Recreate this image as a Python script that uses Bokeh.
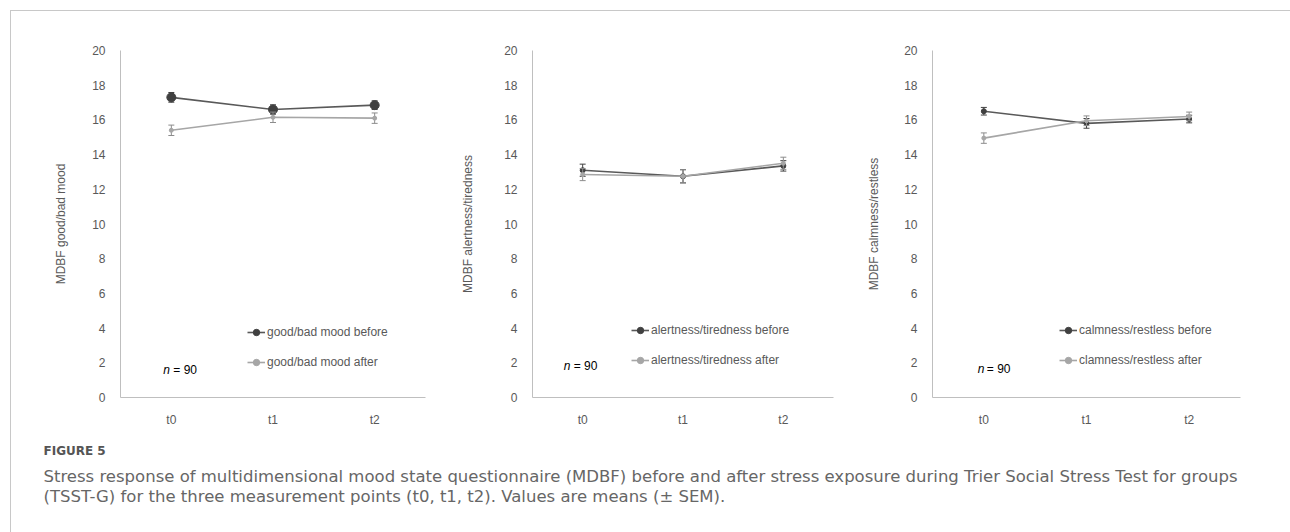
from bokeh.plotting import figure
from bokeh.models import (FactorRange, Range1d, FixedTicker, Legend, LegendItem,
                          Label, Div, Spacer)
from bokeh.layouts import row, column
from bokeh.core.properties import value
from bokeh.embed import file_html
from bokeh.resources import INLINE

# ---------------- data ----------------
cats = ["t0", "t1", "t2"]

mood_before = [17.3, 16.6, 16.85]
mood_before_sem = [0.28, 0.27, 0.25]
mood_after = [15.4, 16.15, 16.1]
mood_after_sem = [0.3, 0.3, 0.3]

alert_before = [13.1, 12.75, 13.35]
alert_before_sem = [0.35, 0.38, 0.3]
alert_after = [12.85, 12.75, 13.5]
alert_after_sem = [0.35, 0.38, 0.35]

calm_before = [16.5, 15.8, 16.05]
calm_before_sem = [0.22, 0.28, 0.22]
calm_after = [14.95, 15.95, 16.2]
calm_after_sem = [0.3, 0.28, 0.25]

y_ticks = [0, 2, 4, 6, 8, 10, 12, 14, 16, 18, 20]

ylabels = ["MDBF good/bad mood", "MDBF alertness/tiredness", "MDBF calmness/restless"]
legend_labels = [
    ["good/bad mood before", "good/bad mood after"],
    ["alertness/tiredness before", "alertness/tiredness after"],
    ["calmness/restless before", "clamness/restless after"],
]
n_text = "= 90"

caption_head = "FIGURE 5"
caption_1 = ("Stress response of multidimensional mood state questionnaire (MDBF) before and after "
             "stress exposure during Trier Social Stress Test for groups")
caption_2 = "(TSST-G) for the three measurement points (t0, t1, t2). Values are means (\u00b1 SEM)."

FONT = "Liberation Sans"
CAP_FONT = "DejaVu Sans"
DARK = "#595959"
DARK_M = "#404040"
LIGHT = "#A6A6A6"
AXIS = "#BFBFBF"
TXT = "#595959"


def panel(w, h, bl, br, bt, bb, ylabel, before, bsem, after, asem, labels,
          big, leg_xy, n_y, n_dx, eq_dx, lab_standoff):
    p = figure(width=w, height=h, x_range=FactorRange(*cats), y_range=Range1d(0, 20),
               output_backend="svg", toolbar_location=None,
               min_border_left=bl, min_border_right=br, min_border_top=bt,
               min_border_bottom=bb)
    p.outline_line_color = None
    p.xgrid.visible = False
    p.ygrid.visible = False
    p.background_fill_color = "white"
    p.border_fill_color = "white"
    for ax in (p.xaxis[0], p.yaxis[0]):
        ax.axis_line_color = AXIS
        ax.axis_line_width = 1
        ax.major_tick_line_color = None
        ax.minor_tick_line_color = None
        ax.major_label_text_font = FONT
        ax.major_label_text_font_size = "12px"
        ax.major_label_text_color = TXT
        ax.major_label_standoff = 9
    p.yaxis.ticker = FixedTicker(ticks=y_ticks)
    p.yaxis.axis_label = ylabel
    p.yaxis.axis_label_text_font = FONT
    p.yaxis.axis_label_text_font_size = "12px"
    p.yaxis.axis_label_text_font_style = "normal"
    p.yaxis.axis_label_text_color = TXT
    p.yaxis.axis_label_standoff = lab_standoff

    b_lo = [m - s for m, s in zip(before, bsem)]
    b_hi = [m + s for m, s in zip(before, bsem)]
    a_lo = [m - s for m, s in zip(after, asem)]
    a_hi = [m + s for m, s in zip(after, asem)]

    p.segment(x0=cats, y0=b_lo, x1=cats, y1=b_hi, line_color=DARK_M, line_width=1)
    p.scatter(x=cats + cats, y=b_lo + b_hi, marker="dash", size=6, line_color=DARK_M, line_width=1)
    bl_r = p.line(cats, before, line_color=DARK, line_width=1.6)
    bm_r = p.scatter(cats, before, size=(9 if big else 5), fill_color=DARK_M, line_color=DARK_M)

    p.segment(x0=cats, y0=a_lo, x1=cats, y1=a_hi, line_color="#8C8C8C", line_width=1)
    p.scatter(x=cats + cats, y=a_lo + a_hi, marker="dash", size=6, line_color="#8C8C8C", line_width=1)
    al_r = p.line(cats, after, line_color=LIGHT, line_width=1.6)
    am_r = p.scatter(cats, after, size=4, fill_color=LIGHT, line_color=LIGHT)

    leg = Legend(items=[LegendItem(label=labels[0], renderers=[bl_r, bm_r]),
                        LegendItem(label=labels[1], renderers=[al_r, am_r])],
                 location=leg_xy, orientation="vertical", padding=0, margin=0,
                 spacing=14, glyph_width=18, glyph_height=16, label_height=16,
                 label_standoff=2, label_text_font=FONT, label_text_font_size="12px",
                 label_text_color=TXT, background_fill_alpha=0, border_line_color=None,
                 label_text_baseline="middle")
    p.add_layout(leg)

    p.text(x=[cats[0]], y=[n_y], text=["n"], x_offset=n_dx, text_baseline="middle",
           text_font=value(FONT), text_font_size="12px", text_font_style="italic",
           text_color="black")
    p.text(x=[cats[0]], y=[n_y], text=[n_text], x_offset=eq_dx, text_baseline="middle",
           text_font=value(FONT), text_font_size="12px", text_color="black")
    return p


p1 = panel(420, 420, 109, 6, 39, 33, ylabels[0], mood_before, mood_before_sem,
           mood_after, mood_after_sem, legend_labels[0], True, (127, 27), 1.6, -8, 2, 21)
p2 = panel(420, 420, 101, 18, 39, 32, ylabels[1], alert_before, alert_before_sem,
           alert_after, alert_after_sem, legend_labels[1], False, (99, 29), 1.83, -19, -9, 26)
p3 = panel(439, 420, 81, 50, 37, 34, ylabels[2], calm_before, calm_before_sem,
           calm_after, calm_after_sem, legend_labels[2], False, (127, 29), 1.66, -6, 3, 20)

cap = figure(width=1279, height=101, x_range=Range1d(0, 1), y_range=Range1d(0, 1),
             output_backend="svg", toolbar_location=None, min_border=0,
             x_axis_location=None, y_axis_location=None)
cap.outline_line_color = None
cap.grid.visible = False
cap.add_layout(Label(x=32, y=82, x_units="screen", y_units="screen", text=caption_head,
                     text_font=CAP_FONT, text_font_size="12px", text_font_style="bold",
                     text_color="#555555", text_baseline="middle"))
cap.add_layout(Label(x=32, y=56, x_units="screen", y_units="screen", text=caption_1,
                     text_font=CAP_FONT, text_font_size="16.5px",
                     text_color="#666666", text_baseline="middle"))
cap.add_layout(Label(x=32, y=36, x_units="screen", y_units="screen", text=caption_2,
                     text_font=CAP_FONT, text_font_size="16.5px",
                     text_color="#666666", text_baseline="middle"))

left_line = Div(text="", width=1, height=522, margin=0,
                styles={"background-color": "#C8C8C8"})
top_line = Div(text="", width=1279, height=1, margin=0,
               styles={"background-color": "#C8C8C8"})

inner = column(top_line, row(p1, p2, p3), cap)
layout = column(Spacer(width=1290, height=10, margin=0),
                row(Spacer(width=10, height=522, margin=0), left_line, inner))

open("out.html", "w").write(file_html(layout, INLINE))
